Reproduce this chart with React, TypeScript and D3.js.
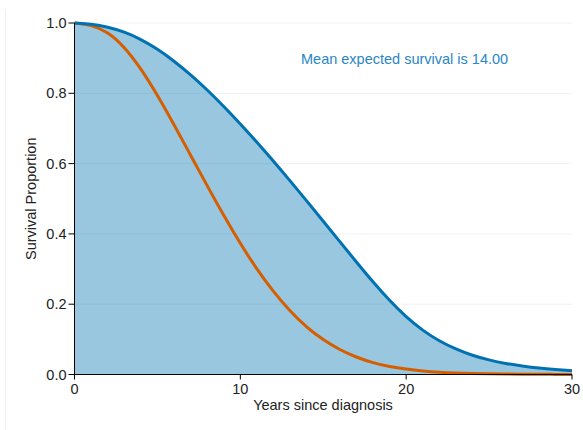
import React from "react";
import * as d3 from "d3";

const years = [0, 1, 2, 3, 4, 5, 6, 7, 8, 9, 10, 11, 12, 13, 14, 15, 16, 17, 18, 19, 20, 21, 22, 23, 24, 25, 26, 27, 28, 29, 30];
const expected = [1.0, 0.997, 0.989, 0.975, 0.954, 0.926, 0.892, 0.853, 0.81, 0.763, 0.713, 0.661, 0.607, 0.551, 0.494, 0.436, 0.378, 0.32, 0.263, 0.21, 0.163, 0.125, 0.095, 0.072, 0.054, 0.041, 0.031, 0.024, 0.018, 0.014, 0.011];
const observed = [1.0, 0.995, 0.975, 0.933, 0.871, 0.795, 0.711, 0.624, 0.537, 0.452, 0.372, 0.299, 0.235, 0.18, 0.134, 0.098, 0.07, 0.049, 0.033, 0.022, 0.015, 0.01, 0.0065, 0.0043, 0.0028, 0.0018, 0.0012, 0.0008, 0.0005, 0.0003, 0.0002];
const xTicks = [0, 10, 20, 30];
const yTicks = [0, 0.2, 0.4, 0.6, 0.8, 1.0];
const annotation = "Mean expected survival is 14.00";

export default function App() {
  const W = 583, H = 430;
  const x = d3.scaleLinear().domain([0, 30]).range([74.5, 572]);
  const y = d3.scaleLinear().domain([0, 1]).range([374.5, 23]);
  const pts = years.map((t, i) => ({ t, e: expected[i], o: observed[i] }));
  const curve = d3.curveBasis;
  const area = d3.area<any>().x(d => x(d.t)).y0(y(0)).y1(d => y(d.e)).curve(curve);
  const lineE = d3.line<any>().x(d => x(d.t)).y(d => y(d.e)).curve(curve);
  const lineO = d3.line<any>().x(d => x(d.t)).y(d => y(d.o)).curve(curve);
  const font = "'Liberation Sans', Arial, sans-serif";
  const fs = 14.5;
  return (
    <svg width={W} height={H} style={{ position: "absolute", left: 0, top: 0 }} fontFamily={font}>
      <rect width={W} height={H} fill="#fff" />
      <line x1={5.5} x2={5.5} y1={9} y2={H} stroke="#eeeeee" />
      {yTicks.map(v => (
        <line key={"g" + v} x1={x(0)} x2={x(30)} y1={y(v)} y2={y(v)} stroke="#eef2f4" strokeWidth={1} />
      ))}
      <path d={area(pts) || ""} fill="#0072B2" fillOpacity={0.4} />
      <path d={lineO(pts) || ""} fill="none" stroke="#D55E00" strokeWidth={3} />
      <path d={lineE(pts) || ""} fill="none" stroke="#0072B2" strokeWidth={3} />
      <line x1={x(0)} x2={x(0)} y1={y(1)} y2={y(0)} stroke="#000" strokeWidth={1} />
      <line x1={x(0)} x2={x(30)} y1={y(0)} y2={y(0)} stroke="#000" strokeWidth={1} />
      {yTicks.map(v => (
        <g key={"y" + v}>
          <line x1={x(0) - 6} x2={x(0)} y1={y(v)} y2={y(v)} stroke="#000" />
          <text x={x(0) - 8} y={y(v)} dy="0.35em" textAnchor="end" fontSize={fs} fill="#222">{v.toFixed(1)}</text>
        </g>
      ))}
      {xTicks.map(v => (
        <g key={"x" + v}>
          <line x1={x(v)} x2={x(v)} y1={y(0)} y2={y(0) + 5} stroke="#000" />
          <text x={x(v)} y={y(0) + 19} textAnchor="middle" fontSize={fs} fill="#222">{v}</text>
        </g>
      ))}
      <text x={323} y={410} textAnchor="middle" fontSize={fs} fill="#222">Years since diagnosis</text>
      <text transform={`translate(36,${(y(0) + y(1)) / 2}) rotate(-90)`} textAnchor="middle" fontSize={fs} fill="#222">Survival Proportion</text>
      <text x={301} y={64} fontSize={fs} fill="#2a86c4">{annotation}</text>
    </svg>
  );
}
